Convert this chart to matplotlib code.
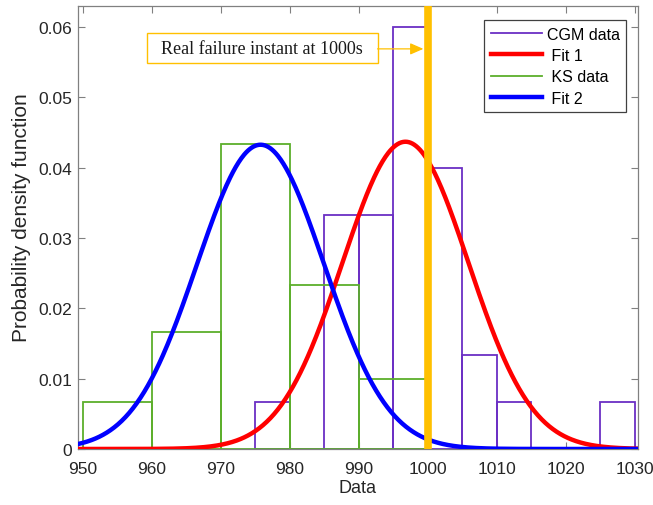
import numpy as np
import matplotlib
matplotlib.use("Agg")
import matplotlib.pyplot as plt
from matplotlib.lines import Line2D
from matplotlib.patches import Rectangle

# CGM data histogram (bin width 5)
cgm_edges = [975, 980, 985, 990, 995, 1000, 1005, 1010, 1015, 1020, 1025]
cgm_heights = [0.00667, 0.0, 0.03333, 0.03333, 0.06, 0.04, 0.01333, 0.00667, 0.0, 0.0, 0.00667]
cgm_width = 5

# KS data histogram (bin width 10)
ks_edges = [950, 960, 970, 980, 990]
ks_heights = [0.00667, 0.01667, 0.04333, 0.02333, 0.01]
ks_width = 10

# Normal fits (mean, sigma)
fit1_mu, fit1_sigma = 996.8, 9.13
fit2_mu, fit2_sigma = 975.8, 9.22

failure_instant = 1000
annot_text = "Real failure instant at 1000s"

purple = "#6B2FC4"
green = "#5CAF2B"
orange = "#FFC000"

plt.rcParams['font.family'] = ['Liberation Sans', 'DejaVu Sans']
fs = 12.5

fig = plt.figure(figsize=(6.53, 5.06), dpi=100)
ax = fig.add_axes([0.119, 0.1107, 0.858, 0.8755])

ax.bar(cgm_edges, cgm_heights, width=cgm_width, align='edge', fill=False,
       edgecolor=purple, linewidth=1.3, zorder=2)
x = np.linspace(949.3, 1030.5, 600)
def npdf(x, mu, s):
    return np.exp(-0.5 * ((x - mu) / s) ** 2) / (s * np.sqrt(2 * np.pi))
ax.plot(x, npdf(x, fit1_mu, fit1_sigma), color='#FF0000', lw=3.2, zorder=3)
ax.bar(ks_edges, ks_heights, width=ks_width, align='edge', fill=False,
       edgecolor=green, linewidth=1.3, zorder=2)
ax.plot(x, npdf(x, fit2_mu, fit2_sigma), color='#0000FF', lw=3.2, zorder=3)
ax.axvline(failure_instant, color=orange, lw=5.5, zorder=4)

handles = [Line2D([], [], color=purple, lw=1.3),
           Line2D([], [], color='#FF0000', lw=3.2),
           Line2D([], [], color=green, lw=1.3),
           Line2D([], [], color='#0000FF', lw=3.2)]
labels = ["CGM data", " Fit 1", " KS data", " Fit 2"]
leg = ax.legend(handles, labels, loc='upper right', bbox_to_anchor=(0.9786, 0.968),
                borderaxespad=0, fontsize=11.5, handlelength=3.2, handletextpad=0.3,
                labelspacing=0.4, borderpad=0.4, fancybox=False, framealpha=1,
                edgecolor='#404040')
leg.get_frame().set_linewidth(0.9)

# annotation box + arrow
box = Rectangle((959.36, 0.05487), 992.75 - 959.36, 0.05913 - 0.05487,
                fc='white', ec=orange, lw=1.0, zorder=5)
ax.add_patch(box)
ax.text((959.36 + 992.75) / 2, 0.0570, annot_text, ha='center', va='center',
        fontsize=13, family=['Liberation Serif'], color='#1a1a1a', zorder=6)
ax.annotate('', xy=(999.4, 0.0569), xytext=(992.75, 0.0569),
            arrowprops=dict(arrowstyle='-|>,head_length=0.8,head_width=0.35', color=orange,
                            lw=0.9, shrinkA=0, shrinkB=0), zorder=5)

ax.set_xlim(949.3, 1030.5)
ax.set_ylim(0, 0.063)
ax.set_xticks(np.arange(950, 1031, 10))
ax.set_yticks([0, 0.01, 0.02, 0.03, 0.04, 0.05, 0.06])
ax.set_yticklabels(['0', '0.01', '0.02', '0.03', '0.04', '0.05', '0.06'])
ax.tick_params(direction='in', top=True, right=True, length=5, width=0.8,
               labelsize=fs, colors='#808080', labelcolor='#262626')
ax.tick_params(axis='x', pad=9)
ax.tick_params(axis='y', pad=4)
for s in ax.spines.values():
    s.set_color('#808080')
    s.set_linewidth(0.9)
ax.set_xlabel('Data', fontsize=13, color='#262626', labelpad=2)
ax.set_ylabel('Probability density function', fontsize=15, color='#262626')
ax.yaxis.set_label_coords(-0.083, 0.524)

fig.savefig('out.png', dpi=100)
